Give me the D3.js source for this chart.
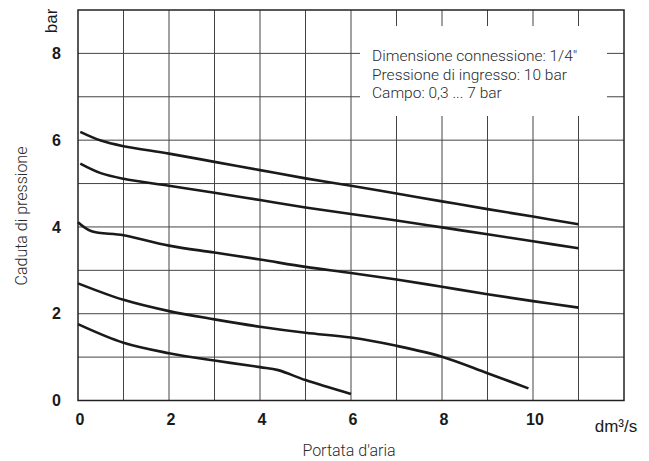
<!DOCTYPE html>
<html>
<head>
<meta charset="utf-8">
<script src="https://cdn.jsdelivr.net/npm/d3@7"></script>
<style>
  body { margin: 0; background: #fff; }
  .light { font-family: "Roboto", sans-serif; font-weight: 300; fill: #2a2a2a; }
  .tick { font-family: "Liberation Sans", Arial, sans-serif; font-weight: bold; font-size: 16px; fill: #1a1a1a; }
  .unit { font-family: "Liberation Sans", Arial, sans-serif; font-size: 17px; fill: #1a1a1a; }
</style>
</head>
<body>
<div id="chart"></div>
<script>
// axes
const flowTicks = [0, 2, 4, 6, 8, 10];
const pressureTicks = [0, 2, 4, 6, 8];
const infoLines = [
  "Dimensione connessione: 1/4\"",
  "Pressione di ingresso: 10 bar",
  "Campo: 0,3 ... 7 bar",
];

// curves (flow dm3/s, pressure bar)
const flow1 = [0.05, 0.5, 1, 2, 3, 4, 5, 6, 7, 8, 9, 10, 11];
const drop1 = [6.19, 5.99, 5.86, 5.69, 5.50, 5.31, 5.12, 4.95, 4.77, 4.59, 4.41, 4.24, 4.06];
const flow2 = [0.05, 0.5, 1, 2, 3, 4, 5, 6, 7, 8, 9, 10, 11];
const drop2 = [5.46, 5.24, 5.11, 4.95, 4.79, 4.62, 4.45, 4.30, 4.15, 3.99, 3.83, 3.67, 3.51];
const flow3 = [0, 0.3, 1, 2, 3, 4, 5, 6, 7, 8, 9, 10, 11];
const drop3 = [4.11, 3.90, 3.81, 3.57, 3.41, 3.25, 3.08, 2.94, 2.79, 2.62, 2.45, 2.29, 2.14];
const flow4 = [0, 1, 2, 3, 4, 5, 6, 7, 8, 9, 9.9];
const drop4 = [2.70, 2.32, 2.06, 1.87, 1.70, 1.56, 1.45, 1.26, 1.01, 0.63, 0.28];
const flow5 = [0, 1, 2, 3, 4, 4.4, 5, 6];
const drop5 = [1.76, 1.33, 1.09, 0.92, 0.77, 0.70, 0.47, 0.15];

const curves = [
  [flow1, drop1],
  [flow2, drop2],
  [flow3, drop3],
  [flow4, drop4],
  [flow5, drop5],
];

const width = 649;
const height = 461;
const margin = { top: 10, left: 78 };
const plotW = 546;
const plotH = 390.5;

const svg = d3
  .select("#chart")
  .append("svg")
  .attr("width", width)
  .attr("height", height);

const x = d3.scaleLinear().domain([0, 12]).range([margin.left, margin.left + plotW]);
const y = d3.scaleLinear().domain([0, 9]).range([margin.top + plotH, margin.top]);

// Grid
const grid = svg.append("g").attr("stroke", "#444").attr("stroke-width", 1);
grid
  .selectAll(".vgrid")
  .data(d3.range(1, 12))
  .enter()
  .append("line")
  .attr("x1", (d) => x(d))
  .attr("x2", (d) => x(d))
  .attr("y1", y(0))
  .attr("y2", y(9));
grid
  .selectAll(".hgrid")
  .data(d3.range(1, 9))
  .enter()
  .append("line")
  .attr("x1", x(0))
  .attr("x2", x(12))
  .attr("y1", (d) => y(d))
  .attr("y2", (d) => y(d));

// Info box (covers the grid)
svg
  .append("rect")
  .attr("x", 360)
  .attr("y", 26)
  .attr("width", 247)
  .attr("height", 90)
  .attr("fill", "#fff");

svg
  .append("g")
  .selectAll("text")
  .data(infoLines)
  .enter()
  .append("text")
  .attr("class", "light")
  .attr("x", 372)
  .attr("y", (d, i) => 61 + i * 18.5)
  .style("font-size", "15.5px")
  .text((d) => d);

// Frame
svg
  .append("rect")
  .attr("x", x(0))
  .attr("y", y(9))
  .attr("width", plotW)
  .attr("height", plotH)
  .attr("fill", "none")
  .attr("stroke", "#222")
  .attr("stroke-width", 1.5);

// Curves
const line = d3
  .line()
  .x((d) => x(d[0]))
  .y((d) => y(d[1]))
  .curve(d3.curveCatmullRom.alpha(0.5));

svg
  .append("g")
  .selectAll("path")
  .data(curves)
  .enter()
  .append("path")
  .attr("d", ([xs, ys]) => line(xs.map((v, i) => [v, ys[i]])))
  .attr("fill", "none")
  .attr("stroke", "#1a1a1a")
  .attr("stroke-width", 2.6);

// Tick labels
svg
  .append("g")
  .selectAll("text")
  .data(flowTicks)
  .enter()
  .append("text")
  .attr("class", "tick")
  .attr("x", (d) => x(d) + 2)
  .attr("y", 425)
  .attr("text-anchor", "middle")
  .text((d) => d);

svg
  .append("g")
  .selectAll("text")
  .data(pressureTicks)
  .enter()
  .append("text")
  .attr("class", "tick")
  .attr("x", 61)
  .attr("y", (d) => y(d))
  .attr("dy", "0.35em")
  .attr("text-anchor", "end")
  .text((d) => d);

// Units
svg
  .append("text")
  .attr("class", "unit")
  .attr("transform", "translate(57, 21) rotate(-90)")
  .attr("text-anchor", "middle")
  .text("bar");

svg
  .append("text")
  .attr("class", "unit")
  .attr("x", 616)
  .attr("y", 432)
  .attr("text-anchor", "middle")
  .text("dm³/s");

// Axis titles
svg
  .append("text")
  .attr("class", "light")
  .attr("x", 349)
  .attr("y", 456)
  .attr("text-anchor", "middle")
  .style("font-size", "16px")
  .text("Portata d'aria");

svg
  .append("text")
  .attr("class", "light")
  .attr("transform", "translate(27, 216) rotate(-90)")
  .attr("text-anchor", "middle")
  .style("font-size", "16px")
  .text("Caduta di pressione");
</script>
</body>
</html>
